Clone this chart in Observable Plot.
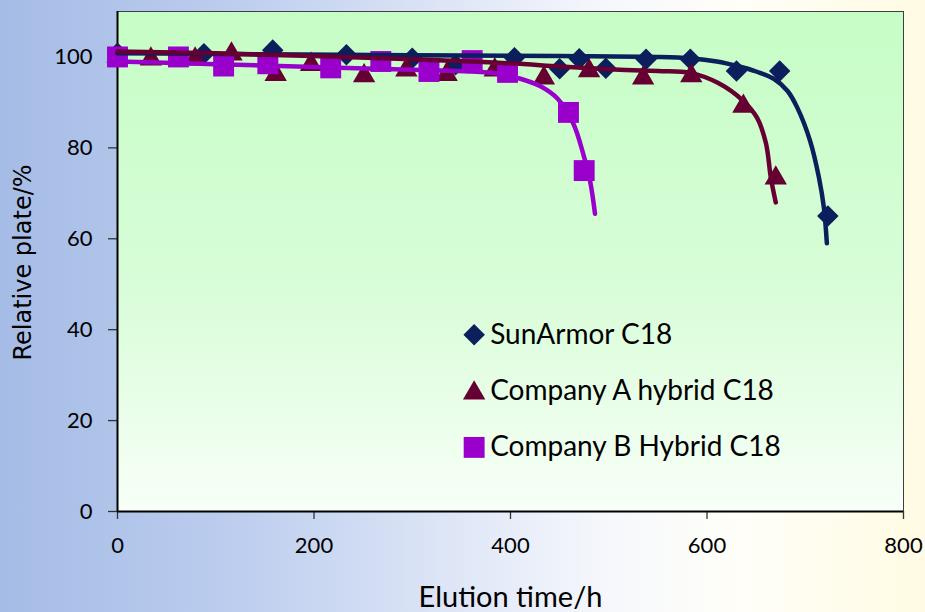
<!DOCTYPE html>
<html><head><meta charset="utf-8">
<script src="https://cdn.jsdelivr.net/npm/d3@7"></script>
<script src="https://cdn.jsdelivr.net/npm/@observablehq/plot@0.6"></script>
<style>
html,body{margin:0;padding:0;}
#chart{width:925px;height:612px;overflow:hidden;
background:linear-gradient(to right,#a5bce6 0%,#bccdee 25%,#dde5f6 48%,#f6f8fc 66%,#fffef8 80%,#fffbe3 100%);}
</style></head><body><div id="chart"></div>
<script>
// ---- data ----
const seriesNames = ["SunArmor C18", "Company A hybrid C18", "Company B Hybrid C18"];

// measured points (markers)
const hoursSun  = [0, 88, 158, 233, 300, 344, 404, 450, 470, 497, 538, 583, 630, 674, 723];
const plateSun  = [100.8, 100.7, 101.5, 100.5, 99.7, 98.3, 99.8, 97.4, 99.6, 97.5, 99.5, 99.5, 96.9, 96.9, 65];
const hoursA    = [0, 34, 79, 116, 161, 197, 251, 294, 335, 384, 434, 480, 535, 584, 637, 670];
const plateA    = [100.8, 100.2, 100.2, 101.3, 96.8, 99, 96.5, 97.8, 96.8, 97.8, 96, 97.6, 96, 96.5, 89.8, 74];
const hoursB    = [0, 62, 108, 153, 217, 268, 317, 361, 397, 459, 475];
const plateB    = [100, 100, 98, 98.5, 97.6, 99, 96.8, 99.2, 96.6, 87.8, 75];

// smooth trend curves
const curveSunX = [0, 150, 300, 450, 550, 583, 610, 631, 650, 668, 682, 692, 705, 714, 719, 722];
const curveSunY = [100.8, 100.6, 100.4, 100.2, 100, 99.7, 99, 98, 96.8, 95.2, 92.5, 88.8, 81.5, 73.4, 66.8, 59];
const curveAX   = [0, 100, 200, 300, 400, 450, 500, 550, 583, 611, 637, 651, 660, 665, 670];
const curveAY   = [101.2, 100.8, 100.2, 99.5, 98.6, 97.9, 97.3, 96.9, 96.5, 94.3, 90.3, 86.6, 81, 73.4, 68];
const curveBX   = [0, 100, 200, 300, 360, 390, 407, 430, 448, 464, 474, 481, 486];
const curveBY   = [99, 98.4, 97.8, 97.2, 96.8, 96.3, 95.4, 93.6, 90.8, 85.3, 78.7, 72.7, 65.5];

const xTicks = [0, 200, 400, 600, 800];
const yTicks = [0, 20, 40, 60, 80, 100];
const xTitle = "Elution time/h";
const yTitle = "Relative plate/%";

// ---- build tables ----
const pts = (xs, ys) => xs.map((x, i) => ({x, y: ys[i]}));
const sunPts = pts(hoursSun, plateSun), aPts = pts(hoursA, plateA), bPts = pts(hoursB, plateB);
const sunCurve = pts(curveSunX, curveSunY), aCurve = pts(curveAX, curveAY), bCurve = pts(curveBX, curveBY);

const NAVY = "#0b1f5c", MAROON = "#660033", PURPLE = "#9900cc";
const colors = [NAVY, MAROON, PURPLE];
const symbols = ["diamond2", "triangle", "square"];
const radii = [9.7, 8.3, 11.8];

const legend = seriesNames.map((name, i) => ({name, i}));
const legendX = 363, legendTop = 38.9, legendStep = 12.4;

const plot = Plot.plot({
  width: 925, height: 612,
  marginLeft: 117, marginRight: 22, marginTop: 11, marginBottom: 101,
  style: {background: "transparent", fontFamily: "Lato", color: "black", overflow: "visible"},
  x: {domain: [0, 800]},
  y: {domain: [0, 110]},
  marks: [
    Plot.frame({fill: "url(#plotbg)", stroke: "#404040", strokeWidth: 1}),
    Plot.axisX({ticks: xTicks, tickSize: 8, tickPadding: 18, label: null, fontSize: 22, strokeWidth: 1.3, stroke: "#333"}),
    Plot.axisY({ticks: yTicks, tickSize: 9, tickPadding: 16, label: null, fontSize: 22, strokeWidth: 1.3, stroke: "#333"}),
    Plot.ruleX([0], {stroke: "black", strokeWidth: 2}),
    Plot.ruleY([0], {stroke: "black", strokeWidth: 2}),
    // markers
    Plot.dot(sunPts, {x: "x", y: "y", symbol: "diamond2", r: radii[0], fill: NAVY, stroke: "none"}),
    Plot.dot(aPts, {x: "x", y: "y", symbol: "triangle", r: radii[1], fill: MAROON, stroke: "none", dy: 3}),
    Plot.dot(bPts, {x: "x", y: "y", symbol: "square", r: radii[2], fill: PURPLE, stroke: "none"}),
    // trend curves
    Plot.line(bCurve, {x: "x", y: "y", stroke: PURPLE, strokeWidth: 4.5, curve: "catmull-rom"}),
    Plot.line(sunCurve, {x: "x", y: "y", stroke: NAVY, strokeWidth: 4.5, curve: "catmull-rom"}),
    Plot.line(aCurve, {x: "x", y: "y", stroke: MAROON, strokeWidth: 4.5, curve: "catmull-rom"}),
    // legend
    ...legend.map(d => Plot.dot([d], {x: () => legendX, y: () => legendTop - d.i * legendStep,
      symbol: symbols[d.i], r: radii[d.i], fill: colors[d.i], stroke: "none", dy: d.i === 1 ? 2 : 0})),
    Plot.text(legend, {x: () => legendX, y: d => legendTop - d.i * legendStep, text: "name",
      textAnchor: "start", lineAnchor: "middle", dx: 16, fontSize: 28, fontFamily: "Lato", fill: "black",
      ariaLabel: "legend-text"}),
    // titles
    Plot.text([yTitle], {frameAnchor: "left", rotate: -90, dx: -94, dy: 1, textAnchor: "middle", lineAnchor: "middle",
      fontSize: 24, fontFamily: "DejaVu Sans", fill: "black", ariaLabel: "y-title"}),
    Plot.text([xTitle], {frameAnchor: "bottom", dy: 86, textAnchor: "middle", lineAnchor: "middle",
      fontSize: 29, fontFamily: "Lato", fill: "black"})
  ]
});

// slight letter spacing (reference text is a little wider)
d3.select(plot).selectAll('g[aria-label="legend-text"] text').style("letter-spacing", "1.5px");
d3.select(plot).selectAll('g[aria-label="y-title"] text').style("letter-spacing", "0.8px");

// gradient for the plot area
const ns = "http://www.w3.org/2000/svg";
const defs = document.createElementNS(ns, "defs");
const grad = document.createElementNS(ns, "linearGradient");
grad.setAttribute("id", "plotbg");
grad.setAttribute("x1", "0"); grad.setAttribute("y1", "0");
grad.setAttribute("x2", "0"); grad.setAttribute("y2", "1");
[["0", "#c6fdc6"], ["0.55", "#d8fdd8"], ["1", "#f8fff8"]].forEach(([o, c]) => {
  const s = document.createElementNS(ns, "stop");
  s.setAttribute("offset", o); s.setAttribute("stop-color", c);
  grad.appendChild(s);
});
defs.appendChild(grad);
plot.insertBefore(defs, plot.firstChild);

document.getElementById("chart").appendChild(plot);
</script></body></html>
